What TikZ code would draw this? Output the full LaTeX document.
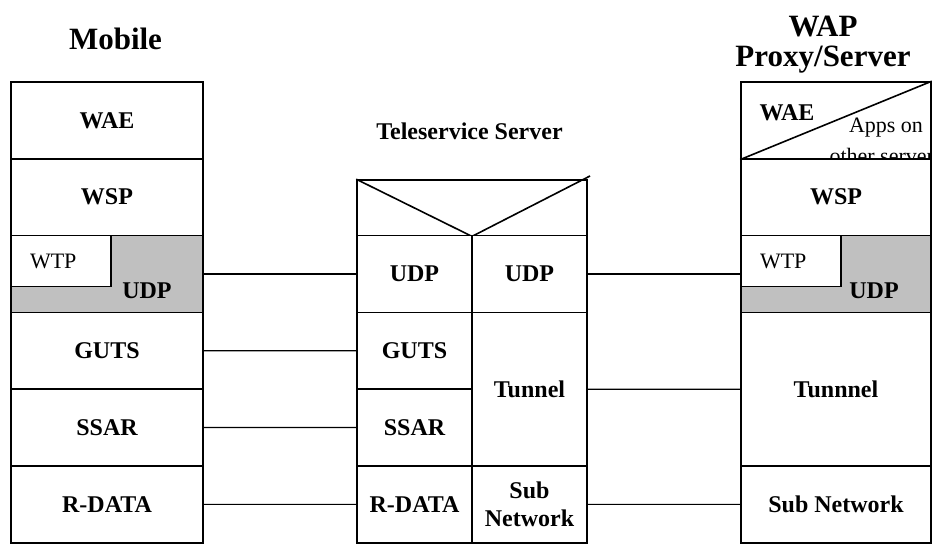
\documentclass[tikz,border=0pt]{standalone}
\usepackage{fontspec}
\setmainfont{Liberation Serif}
\definecolor{udpgray}{RGB}{192,192,192}
\tikzstyle{layer} = [rectangle, draw=black, line width=0.8pt, fill=white, minimum height=38.4pt, inner sep=0pt, align=center, font=\fontsize{12}{14}\selectfont\bfseries]
\tikzstyle{mobile} = [layer, minimum width=96pt]
\tikzstyle{tele} = [layer, minimum width=57.5pt]
\tikzstyle{proxy} = [layer, minimum width=95pt]
\tikzstyle{wtpbox} = [rectangle, draw=black, line width=0.8pt, fill=white, minimum width=50pt, minimum height=25.5pt, inner sep=0pt, text width=31pt, align=left, font=\fontsize{11}{13}\selectfont]
\tikzstyle{title} = [align=center, inner sep=0pt, font=\fontsize{15.5}{15}\selectfont\bfseries]
\tikzstyle{plain} = [inner sep=0pt, align=center, font=\fontsize{12}{14}\selectfont\bfseries]
\tikzstyle{link} = [line width=0.6pt]

\begin{document}
\begin{tikzpicture}[x=0.5pt, y=0.5pt, node distance=38.4pt]
\useasboundingbox (0,0) rectangle (932,544);

\node (m_wae) [mobile] at (107,423.6) {WAE};
\node (m_wsp) [mobile, below of=m_wae] {WSP};
\node (m_udp) [mobile, below of=m_wsp, fill=udpgray] {};
\node (m_wtp) [wtpbox, anchor=north west] at (m_udp.north west) {WTP};
\node (m_udplbl) [plain, xshift=20pt, yshift=-8.5pt] at (m_udp.center) {UDP};
\node (m_guts) [mobile, below of=m_udp] {GUTS};
\node (m_ssar) [mobile, below of=m_guts] {SSAR};
\node (m_rdata) [mobile, below of=m_ssar] {R-DATA};
\node (m_title) [title, above of=m_wae, xshift=4.25pt, yshift=2.1pt] {Mobile};

\node (t_top) [layer, minimum width=115pt, minimum height=27.8pt] at (472,336.2) {};
\coordinate (t_tip) at (590,368);
\draw [line width=0.8pt] (t_top.north west) -- (t_top.south) -- (t_tip);
\node (t_title) [plain, above of=t_top, xshift=-1.25pt] {Teleservice Server};
\node (t_udpl) [tele] at (414.5,270) {UDP};
\node (t_guts) [tele, below of=t_udpl] {GUTS};
\node (t_ssar) [tele, below of=t_guts] {SSAR};
\node (t_rdata) [tele, below of=t_ssar] {R-DATA};
\node (t_udpr) [tele] at (529.5,270) {UDP};
\node (t_tunnel) [tele, below of=t_udpr, yshift=-19.2pt, minimum height=76.8pt] {Tunnel};
\node (t_subnet) [tele, below of=t_tunnel, yshift=-19.2pt] {Sub\\Network};

\node (p_wae) [proxy] at (836,423.6) {};
\draw [line width=0.8pt] (p_wae.south west) -- (p_wae.north east);
\node (p_waelbl) [plain, xshift=-24.5pt, yshift=3.7pt] at (p_wae.center) {WAE};
\node (p_apps) [align=center, inner sep=0pt, font=\fontsize{11}{15.5}\selectfont, xshift=25pt, yshift=-10.4pt] at (p_wae.center) {Apps on\\other servers};
\node (p_wsp) [proxy, below of=p_wae] {WSP};
\node (p_udp) [proxy, below of=p_wsp, fill=udpgray] {};
\node (p_wtp) [wtpbox, anchor=north west] at (p_udp.north west) {WTP};
\node (p_udplbl) [plain, xshift=19pt, yshift=-8.5pt] at (p_udp.center) {UDP};
\node (p_tunnel) [proxy, below of=p_udp, yshift=-19.2pt, minimum height=76.8pt] {Tunnnel};
\node (p_subnet) [proxy, below of=p_tunnel, yshift=-19.2pt] {Sub Network};
\node (p_title) [title, above of=p_wae, xshift=-6.5pt, yshift=-0.6pt] {WAP\\Proxy/Server};

\draw [link] (m_udp) -- (t_udpl);
\draw [link] (m_guts) -- (t_guts);
\draw [link] (m_ssar) -- (t_ssar);
\draw [link] (m_rdata) -- (t_rdata);
\draw [link] (t_udpr) -- (p_udp);
\draw [link] (t_tunnel) -- (p_tunnel);
\draw [link] (t_subnet) -- (p_subnet);
\end{tikzpicture}
\end{document}
